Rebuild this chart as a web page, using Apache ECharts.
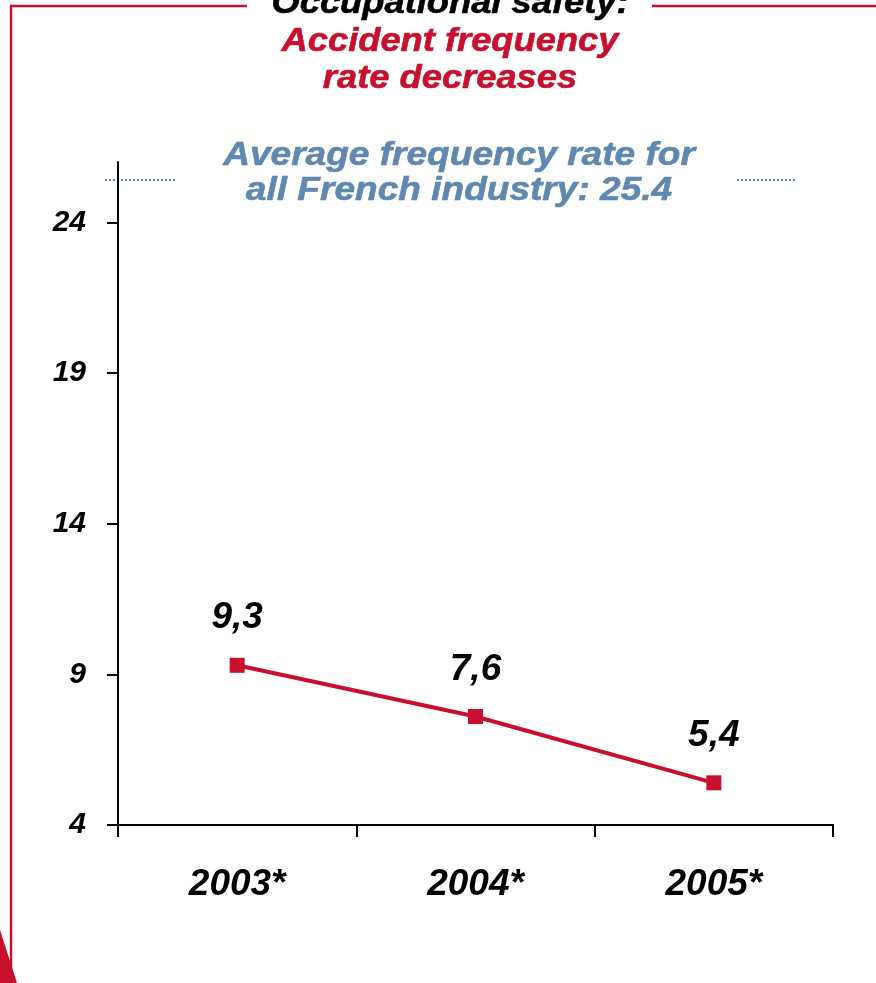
<!DOCTYPE html>
<html>
<head>
<meta charset="utf-8">
<title>Occupational safety: Accident frequency rate decreases</title>
<script src="https://cdn.jsdelivr.net/npm/echarts@6/dist/echarts.min.js"></script>
<style>
  html, body { margin: 0; padding: 0; background: #ffffff; }
  #chart { width: 876px; height: 983px; }
</style>
</head>
<body>
<div id="chart"></div>
<script>
// Accident frequency rate by year
const years = ['2003*', '2004*', '2005*'];
const frequencyRate = [9.3, 7.6, 5.4];
const rateLabels = ['9,3', '7,6', '5,4'];

// Reference level: all French industry
const industryAverage = 25.4;

// Value axis ticks
const yTicks = [4, 9, 14, 19, 24];
const yMin = 4;
const yMax = 26;

const RED = '#c8102e';
const BLUE = '#5f88b1';
const FONT = '"Liberation Sans", Arial, sans-serif';

function headingLine(text, x, y, size, color, wide) {
  return {
    type: 'text',
    x: x,
    y: y,
    scaleX: wide,
    silent: true,
    style: {
      text: text,
      font: 'italic bold ' + size + 'px ' + FONT,
      fill: color,
      stroke: color,
      lineWidth: 0.6,
      textAlign: 'center',
      textVerticalAlign: 'middle'
    }
  };
}

const chart = echarts.init(document.getElementById('chart'), null, { renderer: 'canvas' });

const option = {
  backgroundColor: '#ffffff',
  animation: false,
  grid: { left: 118, right: 43, top: 162, bottom: 158, containLabel: false },
  xAxis: {
    type: 'category',
    data: years,
    boundaryGap: true,
    axisLine: { lineStyle: { color: '#000000', width: 2 } },
    axisTick: { show: true, length: 12, inside: false, lineStyle: { color: '#000000', width: 2 } },
    axisLabel: {
      margin: 41,
      fontFamily: FONT, fontSize: 37, fontWeight: 'bold', fontStyle: 'italic', color: '#000000'
    },
    splitLine: { show: false }
  },
  yAxis: {
    type: 'value',
    min: yMin,
    max: yMax,
    axisLine: { show: true, lineStyle: { color: '#000000', width: 2 } },
    axisTick: { show: true, length: 11, customValues: yTicks, lineStyle: { color: '#000000', width: 2 } },
    axisLabel: {
      customValues: yTicks,
      margin: 32,
      fontFamily: FONT, fontSize: 30, fontWeight: 'bold', fontStyle: 'italic', color: '#000000'
    },
    splitLine: { show: false }
  },
  series: [
    {
      name: 'Frequency rate',
      type: 'line',
      data: frequencyRate,
      symbol: 'rect',
      symbolSize: 15,
      lineStyle: { color: RED, width: 4 },
      itemStyle: { color: RED },
      label: {
        show: true,
        position: 'top',
        distance: 21,
        formatter: function (p) { return rateLabels[p.dataIndex]; },
        fontFamily: FONT, fontSize: 37, fontWeight: 'bold', fontStyle: 'italic', color: '#000000'
      },
      z: 3
    }
  ]
};

chart.setOption(option);

// Dotted reference segments on either side of the subtitle, placed at the average value
const yAvg = chart.convertToPixel({ yAxisIndex: 0 }, industryAverage);

chart.setOption({
  graphic: [
    // frame: top rule split around the title, left rule, corner wedge
    { type: 'line', shape: { x1: 10, y1: 6, x2: 247, y2: 6 }, style: { stroke: RED, lineWidth: 2.5 }, silent: true },
    { type: 'line', shape: { x1: 652, y1: 6, x2: 876, y2: 6 }, style: { stroke: RED, lineWidth: 2.5 }, silent: true },
    { type: 'line', shape: { x1: 11, y1: 5, x2: 11, y2: 983 }, style: { stroke: RED, lineWidth: 2.5 }, silent: true },
    { type: 'polygon', shape: { points: [[0, 930], [17, 983], [0, 983]] }, style: { fill: RED }, silent: true },
    // heading
    headingLine('Occupational safety:', 450, 4, 33, '#000000', 1.1),
    headingLine('Accident frequency', 450, 42, 33, RED, 1.1),
    headingLine('rate decreases', 450, 79, 33, RED, 1.1),
    // subtitle
    headingLine('Average frequency rate for', 459, 156, 34, BLUE, 1.09),
    headingLine('all French industry: ' + industryAverage, 459, 191, 34, BLUE, 1.09),
    // average level markers
    { type: 'line', shape: { x1: 105, y1: yAvg, x2: 177, y2: yAvg }, style: { stroke: BLUE, lineWidth: 2, lineDash: [2, 2] }, silent: true },
    { type: 'line', shape: { x1: 737, y1: yAvg, x2: 797, y2: yAvg }, style: { stroke: BLUE, lineWidth: 2, lineDash: [2, 2] }, silent: true }
  ]
});
</script>
</body>
</html>
